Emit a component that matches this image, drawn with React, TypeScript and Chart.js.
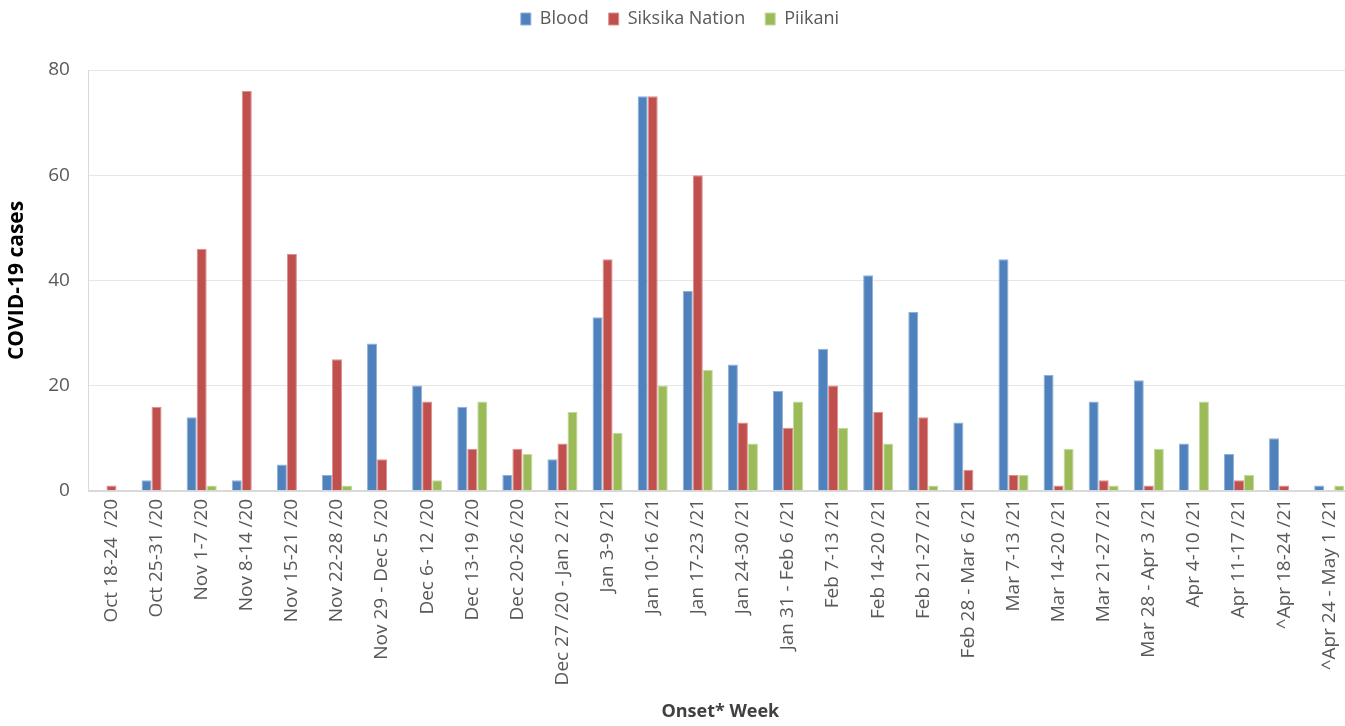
import React, { useEffect, useRef } from "react";
import { Chart, registerables } from "chart.js";

Chart.register(...registerables);

const weeks: string[] = [
  "Oct 18-24  /20", "Oct 25-31 /20", "Nov 1-7 /20", "Nov 8-14 /20", "Nov 15-21 /20",
  "Nov 22-28 /20", "Nov 29 - Dec 5 /20", "Dec 6- 12 /20", "Dec 13-19 /20", "Dec 20-26 /20",
  "Dec 27 /20 - Jan 2 /21", "Jan 3-9 /21", "Jan 10-16 /21", "Jan 17-23 /21", "Jan 24-30 /21",
  "Jan 31 - Feb 6 /21", "Feb 7-13 /21", "Feb 14-20 /21", "Feb 21-27 /21", "Feb 28 - Mar 6 /21",
  "Mar 7-13 /21", "Mar 14-20 /21", "Mar 21-27 /21", "Mar 28 - Apr 3 /21", "Apr 4-10 /21",
  "Apr 11-17 /21", "^Apr 18-24 /21", "^Apr 24 - May 1 /21",
];

const blood: number[] = [0, 2, 14, 2, 5, 3, 28, 20, 16, 3, 6, 33, 75, 38, 24, 19, 27, 41, 34, 13, 44, 22, 17, 21, 9, 7, 10, 1];
const siksika: number[] = [1, 16, 46, 76, 45, 25, 6, 17, 8, 8, 9, 44, 75, 60, 13, 12, 20, 15, 14, 4, 3, 1, 2, 1, 0, 2, 1, 0];
const piikani: number[] = [0, 0, 1, 0, 0, 1, 0, 2, 17, 7, 15, 11, 20, 23, 9, 17, 12, 9, 1, 0, 3, 8, 1, 8, 17, 3, 0, 1];

const yTicks: number[] = [0, 20, 40, 60, 80];

const FONT = "'Open Sans', 'Liberation Sans', sans-serif";
const TEXT = "#595959";
const CANVAS_W = 1360;
const CANVAS_H = 726;

const legendMargin = {
  id: "legendMargin",
  beforeInit(chart: any) {
    const orig = chart.legend.fit;
    chart.legend.fit = function () {
      orig.bind(chart.legend)();
      this.height += 32;
    };
  },
};

export default function App() {
  const ref = useRef<HTMLCanvasElement | null>(null);

  useEffect(() => {
    if (!ref.current) return;
    const mk = (label: string, data: number[], fill: string, border: string) => ({
      label,
      data,
      backgroundColor: fill,
      borderColor: border,
      borderWidth: 1,
      categoryPercentage: 0.667,
      barPercentage: 1.0,
    });
    const chart = new Chart(ref.current, {
      type: "bar",
      data: {
        labels: weeks,
        datasets: [
          mk("Blood", blood, "#4f81bd", "#8fb0d9"),
          mk("Siksika Nation", siksika, "#c0504d", "#dc8f8d"),
          mk("Piikani", piikani, "#9bbb59", "#c5d99c"),
        ],
      },
      plugins: [legendMargin],
      options: {
        animation: false,
        responsive: false,
        maintainAspectRatio: false,
        layout: { padding: { left: 0, right: 0, top: -10, bottom: 3 } },
        plugins: {
          legend: {
            position: "top",
            labels: {
              boxWidth: 10,
              boxHeight: 12,
              padding: 20,
              color: TEXT,
              font: { family: FONT, size: 18 },
            },
          },
          tooltip: { enabled: false },
        },
        scales: {
          x: {
            grid: { display: false, drawTicks: false },
            border: { color: "#d9d9d9", width: 2 },
            ticks: {
              color: TEXT,
              font: { family: FONT, size: 19 },
              minRotation: 90,
              maxRotation: 90,
              autoSkip: false,
              padding: 8,
            },
            title: {
              display: true,
              text: "Onset* Week",
              color: "#404040",
              font: { family: FONT, size: 18, weight: "bold" },
              padding: { top: 8, bottom: 0 },
            },
          },
          y: {
            min: 0,
            max: 80,
            afterBuildTicks: (axis: any) => {
              axis.ticks = yTicks.map((v) => ({ value: v }));
            },
            grid: { color: "#e6e6e6", drawTicks: false },
            border: { color: "#d9d9d9", width: 1 },
            ticks: {
              color: TEXT,
              font: { family: FONT, size: 19 },
              padding: 19,
            },
            title: {
              display: true,
              text: "COVID-19 cases",
              color: "#000000",
              font: { family: FONT, size: 21, weight: "bold" },
              padding: { top: 4, bottom: 0 },
            },
          },
        },
      },
    });
    return () => chart.destroy();
  }, []);

  return (
    <div style={{ position: "fixed", left: 0, top: 0, width: 1345, height: 726, overflow: "hidden", background: "#fff" }}>
      <canvas ref={ref} width={CANVAS_W} height={CANVAS_H} style={{ width: CANVAS_W, height: CANVAS_H, display: "block" }} />
    </div>
  );
}
